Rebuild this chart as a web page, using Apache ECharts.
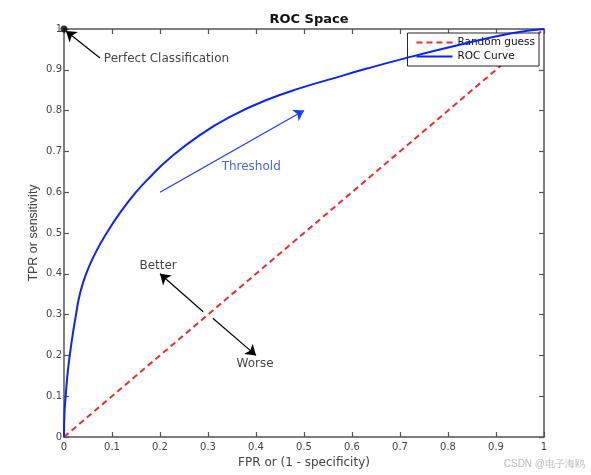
<!DOCTYPE html>
<html>
<head>
<meta charset="utf-8">
<script src="https://cdn.jsdelivr.net/npm/echarts@6/dist/echarts.min.js"></script>
<style>
html,body{margin:0;padding:0;background:#fff;}
#chart{width:591px;height:475px;}
</style>
</head>
<body>
<div id="chart"></div>
<script>
// ---- data ----
var rocFPR = [0, 0.001, 0.0035, 0.007, 0.012, 0.018, 0.025, 0.033, 0.046, 0.065, 0.089, 0.117, 0.150, 0.180, 0.216, 0.283, 0.353, 0.422, 0.492, 0.561, 0.631, 0.710, 0.820, 0.930, 1.0];
var rocTPR = [0, 0.059, 0.10, 0.15, 0.20, 0.25, 0.30, 0.35, 0.40, 0.45, 0.50, 0.55, 0.60, 0.638, 0.679, 0.740, 0.789, 0.826, 0.855, 0.879, 0.903, 0.928, 0.960, 0.989, 1.0];
var randomX = [0, 1];
var randomY = [0, 1];
var perfectPoint = [0, 1];
// arrows: [x1, y1, x2, y2] (arrowhead at the second point)
var blackArrows = [
  [0.075, 0.929, 0.004, 0.995],
  [0.29, 0.307, 0.20, 0.40],
  [0.31, 0.291, 0.40, 0.20]
];
var blueArrows = [
  [0.20, 0.60, 0.50, 0.80]
];
var textLabels = [
  {text: 'Perfect Classification', x: 0.083, y: 0.926, color: '#111', align: 'left'},
  {text: 'Better', x: 0.196, y: 0.419, color: '#111', align: 'center'},
  {text: 'Worse', x: 0.398, y: 0.179, color: '#111', align: 'center'},
  {text: 'Threshold', x: 0.39, y: 0.662, color: '#1a3cff', align: 'center'}
];
var tickLabels = ['0','0.1','0.2','0.3','0.4','0.5','0.6','0.7','0.8','0.9','1'];
var titleText = 'ROC Space';
var xName = 'FPR or (1 - specificity)';
var yName = 'TPR or sensitivity';
var watermark = 'CSDN @电子海鸥';

// ---- build ----
var axisColor = '#555';
var fontFam = '"Liberation Sans", Arial, sans-serif';
var wideFam = '"DejaVu Sans", sans-serif';
function zip(a, b){ return a.map(function(v,i){ return [v, b[i]]; }); }

function baseX(pos, showLabel){
  return {
    type: 'value', position: pos, min: 0, max: 1, interval: 0.1,
    name: showLabel ? xName : '', nameLocation: 'middle', nameGap: 18,
    nameTextStyle: {color: '#444', fontSize: 12, fontFamily: wideFam},
    axisLine: {show: true, onZero: false, lineStyle: {color: axisColor, width: 1.5}},
    axisTick: {show: true, inside: true, length: 5, lineStyle: {color: axisColor, width: 1.2}},
    axisLabel: {show: showLabel, color: '#444', fontSize: 10, fontFamily: wideFam, margin: 5,
      formatter: function(v){ return tickLabels[Math.round(v*10)]; }},
    splitLine: {show: false}
  };
}
function baseY(pos, showLabel){
  return {
    type: 'value', position: pos, min: 0, max: 1, interval: 0.1,
    name: showLabel ? yName : '', nameLocation: 'middle', nameGap: 24, nameRotate: 90,
    nameMoveOverlap: false,
    nameTextStyle: {color: '#444', fontSize: 12.5, fontFamily: fontFam},
    axisLine: {show: true, onZero: false, lineStyle: {color: axisColor, width: 1.5}},
    axisTick: {show: true, inside: true, length: 5, lineStyle: {color: axisColor, width: 1.2}},
    axisLabel: {show: showLabel, color: '#444', fontSize: 10, fontFamily: wideFam, margin: 2,
      formatter: function(v){ return tickLabels[Math.round(v*10)]; }},
    splitLine: {show: false}
  };
}

function arrowData(list){
  return list.map(function(a){ return {coords: [[a[0], a[1]], [a[2], a[3]]]}; });
}

var chart = echarts.init(document.getElementById('chart'), null, {renderer: 'canvas'});
var option = {
  animation: false,
  backgroundColor: '#fff',
  title: {
    text: titleText, left: 304, top: 8, textAlign: 'center',
    textStyle: {fontSize: 13, fontWeight: 'bold', color: '#111', fontFamily: wideFam}
  },
  grid: {left: 64, right: 47, top: 29, bottom: 38, containLabel: false},
  legend: {
    data: ['Random guess', 'ROC Curve'],
    orient: 'vertical', right: 52, top: 33,
    itemWidth: 36, itemHeight: 10, itemGap: 3,
    padding: [4, 4, 4, 8],
    backgroundColor: '#fff', borderColor: '#222', borderWidth: 1,
    itemStyle: {opacity: 0},
    textStyle: {fontSize: 10.5, color: '#111', fontFamily: wideFam}
  },
  xAxis: [baseX('bottom', true), baseX('top', false)],
  yAxis: [baseY('left', true), baseY('right', false)],
  series: [
    {
      name: 'Random guess', type: 'line', data: zip(randomX, randomY),
      symbol: 'none', z: 3,
      lineStyle: {color: '#f42a2a', width: 2, type: [6, 4]},
      itemStyle: {color: '#f42a2a'}
    },
    {
      name: 'ROC Curve', type: 'line', data: zip(rocFPR, rocTPR),
      symbol: 'none', smooth: 0.5, z: 4,
      lineStyle: {color: '#0a24ff', width: 2},
      itemStyle: {color: '#0a24ff'}
    },
    {
      name: 'perfect', type: 'scatter', data: [perfectPoint],
      symbolSize: 7, itemStyle: {color: '#000'}, z: 6
    },
    {
      name: 'arrowsBlack', type: 'lines', coordinateSystem: 'cartesian2d',
      data: arrowData(blackArrows), symbol: ['none', 'arrow'], symbolSize: 10,
      lineStyle: {color: '#000', width: 1.2, opacity: 1}, z: 5
    },
    {
      name: 'arrowsBlue', type: 'lines', coordinateSystem: 'cartesian2d',
      data: arrowData(blueArrows), symbol: ['none', 'arrow'], symbolSize: 10,
      lineStyle: {color: '#1a3cff', width: 1.2, opacity: 1}, z: 5
    },
    {
      name: 'labels', type: 'scatter', symbolSize: 0, z: 7,
      data: textLabels.map(function(t){
        return {value: [t.x, t.y], label: {
          show: true, position: 'inside', formatter: t.text, color: t.color,
          align: t.align, verticalAlign: 'middle', fontSize: 12, fontFamily: wideFam
        }};
      })
    }
  ],
  graphic: [{
    type: 'text', right: 6, bottom: 6,
    style: {text: watermark, fill: '#bbb', fontSize: 10, fontFamily: fontFam}
  }]
};
chart.setOption(option);
</script>
</body>
</html>
